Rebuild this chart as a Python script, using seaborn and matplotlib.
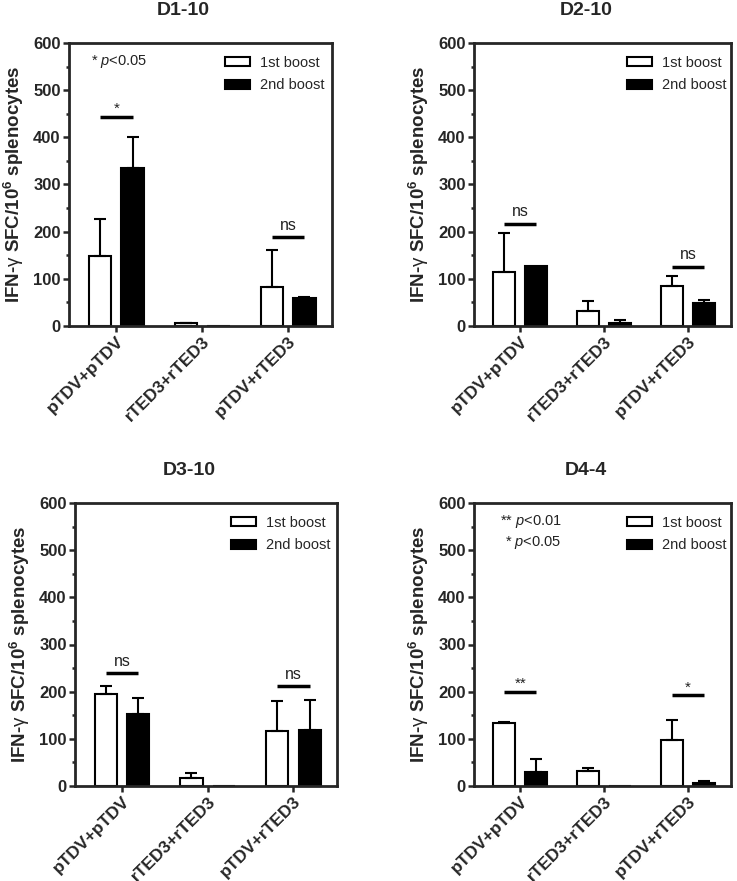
import numpy as np
import matplotlib
matplotlib.use("Agg")
import matplotlib.pyplot as plt
from matplotlib.ticker import MultipleLocator
from matplotlib.patches import Patch
import pandas as pd
import seaborn as sns

# Data (means and top of error bar)
groups = ["pTDV+pTDV", "rTED3+rTED3", "pTDV+rTED3"]
boosts = ["1st boost", "2nd boost"]
panel_titles = ["D1-10", "D2-10", "D3-10", "D4-4"]

d1_first = [149, 6, 83]
d1_second = [336, 1, 59]
d1_first_top = [227, 7, 161]
d1_second_top = [401, 1, 61]

d2_first = [115, 31, 85]
d2_second = [127, 7, 48]
d2_first_top = [197, 52, 106]
d2_second_top = [127, 12, 55]

d3_first = [196, 16, 116]
d3_second = [152, 1, 118]
d3_first_top = [213, 27, 181]
d3_second_top = [186, 1, 182]

d4_first = [133, 31, 97]
d4_second = [30, 0, 7]
d4_first_top = [135, 39, 140]
d4_second_top = [58, 0, 10]

# significance bars: (group index, y level, label)
d1_sig = [(0, 443, "*"), (2, 188, "ns")]
d2_sig = [(0, 216, "ns"), (2, 125, "ns")]
d3_sig = [(0, 239, "ns"), (2, 211, "ns")]
d4_sig = [(0, 200, "**"), (2, 192, "*")]

d1_notes = ["* $p$<0.05"]
d2_notes = []
d3_notes = []
d4_notes = ["** $p$<0.01", "* $p$<0.05"]

sns.set_style("ticks")
plt.rcParams["font.family"] = ["Liberation Sans", "DejaVu Sans"]
plt.rcParams["mathtext.fontset"] = "custom"
plt.rcParams["mathtext.rm"] = "Liberation Sans"
plt.rcParams["mathtext.it"] = "Liberation Sans:italic"
plt.rcParams["mathtext.bf"] = "Liberation Sans:bold"

palette = {"1st boost": "white", "2nd boost": "black"}

fig = plt.figure(figsize=(7.37, 8.81), dpi=100)
rects = [
    [69 / 737, 1 - 326 / 881, 263 / 737, 283 / 881],
    [474 / 737, 1 - 326 / 881, 257 / 737, 283 / 881],
    [75 / 737, 1 - 786 / 881, 262 / 737, 283 / 881],
    [474 / 737, 1 - 786 / 881, 257 / 737, 283 / 881],
]

panels = [
    (d1_first, d1_second, d1_first_top, d1_second_top, d1_sig, d1_notes),
    (d2_first, d2_second, d2_first_top, d2_second_top, d2_sig, d2_notes),
    (d3_first, d3_second, d3_first_top, d3_second_top, d3_sig, d3_notes),
    (d4_first, d4_second, d4_first_top, d4_second_top, d4_sig, d4_notes),
]

for i, (first, second, first_top, second_top, sigs, notes) in enumerate(panels):
    ax = fig.add_axes(rects[i])
    df = pd.DataFrame({
        "group": groups * 2,
        "boost": [boosts[0]] * 3 + [boosts[1]] * 3,
        "value": first + second,
    })
    sns.barplot(data=df, x="group", y="value", hue="boost", order=groups,
                hue_order=boosts, palette=palette, edgecolor="black",
                linewidth=1.5, width=0.76, gap=0.32, errorbar=None,
                legend=False, ax=ax)
    bar_conts = list(ax.containers)

    # upward error bars on top of each bar
    tops = [first_top, second_top]
    vals = [first, second]
    for h, cont in enumerate(bar_conts):
        for j, p in enumerate(cont.patches):
            err = tops[h][j] - vals[h][j]
            if err > 0:
                xc = p.get_x() + p.get_width() / 2
                ax.errorbar(xc, vals[h][j], yerr=[[0], [err]], fmt="none",
                            ecolor="black", elinewidth=1.5, capsize=4.5,
                            capthick=1.5, zorder=3)

    # significance lines between the two bars of a group
    for g, y, lab in sigs:
        p1 = bar_conts[0].patches[g]
        p2 = bar_conts[1].patches[g]
        x1 = p1.get_x() + p1.get_width() / 2
        x2 = p2.get_x() + p2.get_width() / 2
        ax.plot([x1, x2], [y, y], color="black", lw=2.5, solid_capstyle="butt")
        if lab == "ns":
            ax.text((x1 + x2) / 2, y + 10, lab, ha="center", va="bottom",
                    fontsize=11.5, color="#222222")
        else:
            ax.text((x1 + x2) / 2, y + 17, lab, ha="center", va="center",
                    fontsize=11, color="#222222")

    for k, note in enumerate(notes):
        if i == 0:
            ax.text(0.297, 0.933, note, transform=ax.transAxes, ha="right",
                    va="center", fontsize=10.5, color="#222222")
        else:
            ax.text(0.34, 0.936 - k * 0.074, note, transform=ax.transAxes,
                    ha="right", va="center", fontsize=10.5, color="#222222")

    ax.set_ylim(0, 600)
    ax.set_xlim(-0.55, 2.51)
    ax.yaxis.set_major_locator(MultipleLocator(100))
    ax.yaxis.set_minor_locator(MultipleLocator(50))
    for s in ax.spines.values():
        s.set_linewidth(2)
        s.set_visible(True)
    ax.tick_params(axis="y", which="major", width=1.8, length=4.5, pad=1.5,
                   labelsize=12)
    ax.tick_params(axis="y", which="minor", width=1.8, length=2.5)
    ax.tick_params(axis="x", width=1.8, length=4.5, pad=1)
    for lab in ax.get_yticklabels():
        lab.set_fontweight("bold")
    ax.set_xticks(range(3))
    ax.set_xticklabels(groups, rotation=45, ha="right", rotation_mode="anchor",
                       fontweight="bold", fontsize=12.5)
    ax.set_xlabel("")
    ax.set_ylabel(r"IFN-$\mathrm{\gamma}$ SFC/10$^{\mathbf{6}}$ splenocytes",
                  fontsize=13.5, fontweight="bold", labelpad=5)
    ax.text(0.435, 1.115, panel_titles[i], transform=ax.transAxes, ha="center",
            va="center", fontsize=14, fontweight="bold")

    handles = [Patch(facecolor=palette[b], edgecolor="black", linewidth=1.5, label=b)
               for b in boosts]
    ax.legend(handles=handles, loc="upper left", bbox_to_anchor=(0.595, 0.955),
              borderaxespad=0, borderpad=0, frameon=False, fontsize=10.5,
              handlelength=1.7, handleheight=0.55, handletextpad=0.7,
              labelspacing=0.6)

fig.savefig("out.png", dpi=100)
